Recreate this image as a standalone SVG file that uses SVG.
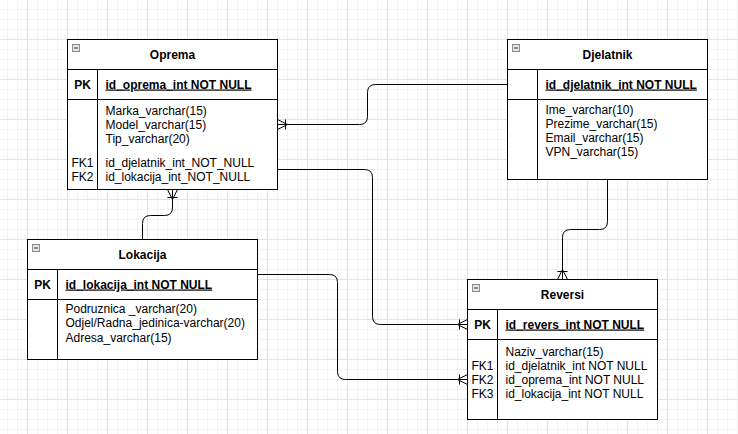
<svg xmlns="http://www.w3.org/2000/svg" width="738" height="434" viewBox="0 0 738 434">
<defs>
<pattern id="grid" patternUnits="userSpaceOnUse" x="27" y="39" width="40" height="40">
<path d="M10.5 0V40M20.5 0V40M30.5 0V40M0 10.5H40M0 20.5H40M0 30.5H40" stroke="#f2f2f2" stroke-width="1" fill="none"/>
<path d="M0.5 0V40M0 0.5H40" stroke="#e3e3e3" stroke-width="1" fill="none"/>
</pattern>
<marker id="crow" markerUnits="userSpaceOnUse" orient="auto" refX="0" refY="0" markerWidth="14" markerHeight="14" overflow="visible">
<path d="M0 -5L-10 0L0 5M-8 -5V5" fill="none" stroke="#000" stroke-width="1"/>
</marker>
</defs>
<style>
.box{fill:#fff;stroke:#000;stroke-width:1}
.sep{fill:none;stroke:#000;stroke-width:1}
.icon{fill:#e6e6e6;stroke:#8a8a8a;stroke-width:1}
.minus{stroke:#333;stroke-width:1}
text{font-family:"Liberation Sans",Arial,sans-serif;font-size:12px;fill:#000}
.title{font-weight:bold;text-anchor:middle}
.pk{font-weight:bold;text-anchor:middle}
.pkname{font-weight:bold;text-decoration:underline}
.fk{text-anchor:middle}
.conn{fill:none;stroke:#000;stroke-width:1}
</style>
<rect x="0" y="0" width="738" height="434" fill="#fff"/>
<rect x="0" y="0" width="738" height="434" fill="url(#grid)"/>

<g id="connectors">
<path class="conn" d="M507.5 84.5H375.5Q367.5 84.5 367.5 92.5V116.5Q367.5 124.5 359.5 124.5H277.5" marker-end="url(#crow)"/>
<path class="conn" d="M277.5 169.5H364.5Q372.5 169.5 372.5 177.5V316.5Q372.5 324.5 380.5 324.5H467.5" marker-end="url(#crow)"/>
<path class="conn" d="M257.5 274.5H329.5Q337.5 274.5 337.5 282.5V371.5Q337.5 379.5 345.5 379.5H467.5" marker-end="url(#crow)"/>
<path class="conn" d="M142.5 239.5V223.5Q142.5 215.5 150.5 215.5H164.5Q172.5 215.5 172.5 207.5V189.5" marker-end="url(#crow)"/>
<path class="conn" d="M607.5 179.5V221.5Q607.5 229.5 599.5 229.5H570.5Q562.5 229.5 562.5 237.5V279.5" marker-end="url(#crow)"/>
</g>

<g id="oprema">
<rect class="box" x="67.5" y="39.5" width="210" height="150"/>
<path class="sep" d="M67.5 69.5H277.5M67.5 99.5H277.5M97.5 69.5V189.5"/>
<rect class="icon" x="72.5" y="44.5" width="7" height="7"/>
<path class="minus" d="M74 48H78"/>
<text class="title" x="172.5" y="58.5">Oprema</text>
<text class="pk" x="82.5" y="88.5">PK</text>
<text class="pkname" x="105.5" y="88.5">id_oprema_int NOT NULL</text>
<text x="105.5" y="114.5">Marka_varchar(15)</text>
<text x="105.5" y="128.5">Model_varchar(15)</text>
<text x="105.5" y="143">Tip_varchar(20)</text>
<text class="fk" x="82.5" y="166.5">FK1</text>
<text x="105.5" y="166.5">id_djelatnik_int_NOT_NULL</text>
<text class="fk" x="82.5" y="181">FK2</text>
<text x="105.5" y="181">id_lokacija_int_NOT_NULL</text>
</g>

<g id="djelatnik">
<rect class="box" x="507.5" y="39.5" width="200" height="140"/>
<path class="sep" d="M507.5 69.5H707.5M507.5 99.5H707.5M537.5 69.5V179.5"/>
<rect class="icon" x="512.5" y="44.5" width="7" height="7"/>
<path class="minus" d="M514 48H518"/>
<text class="title" x="607.5" y="58.5">Djelatnik</text>
<text class="pkname" x="545.5" y="88.5">id_djelatnik_int NOT NULL</text>
<text x="545.5" y="113.5">Ime_varchar(10)</text>
<text x="545.5" y="127.5">Prezime_varchar(15)</text>
<text x="545.5" y="141.5">Email_varchar(15)</text>
<text x="545.5" y="155.5">VPN_varchar(15)</text>
</g>

<g id="lokacija">
<rect class="box" x="27.5" y="239.5" width="230" height="120"/>
<path class="sep" d="M27.5 269.5H257.5M27.5 299.5H257.5M57.5 269.5V359.5"/>
<rect class="icon" x="32.5" y="244.5" width="7" height="7"/>
<path class="minus" d="M34 248H38"/>
<text class="title" x="142.5" y="258.5">Lokacija</text>
<text class="pk" x="42.5" y="288.5">PK</text>
<text class="pkname" x="65.5" y="288.5">id_lokacija_int NOT NULL</text>
<text x="65.5" y="312.5">Podruznica _varchar(20)</text>
<text x="65.5" y="327">Odjel/Radna_jedinica-varchar(20)</text>
<text x="65.5" y="341.5">Adresa_varchar(15)</text>
</g>

<g id="reversi">
<rect class="box" x="467.5" y="279.5" width="190" height="140"/>
<path class="sep" d="M467.5 309.5H657.5M467.5 339.5H657.5M497.5 309.5V419.5"/>
<rect class="icon" x="472.5" y="284.5" width="7" height="7"/>
<path class="minus" d="M474 288H478"/>
<text class="title" x="562.5" y="298.5">Reversi</text>
<text class="pk" x="482.5" y="328.5">PK</text>
<text class="pkname" x="505.5" y="328.5">id_revers_int NOT NULL</text>
<text x="505.5" y="356">Naziv_varchar(15)</text>
<text class="fk" x="482.5" y="370">FK1</text>
<text x="505.5" y="370">id_djelatnik_int NOT NULL</text>
<text class="fk" x="482.5" y="384">FK2</text>
<text x="505.5" y="384">id_oprema_int NOT NULL</text>
<text class="fk" x="482.5" y="398">FK3</text>
<text x="505.5" y="398">id_lokacija_int NOT NULL</text>
</g>
</svg>
